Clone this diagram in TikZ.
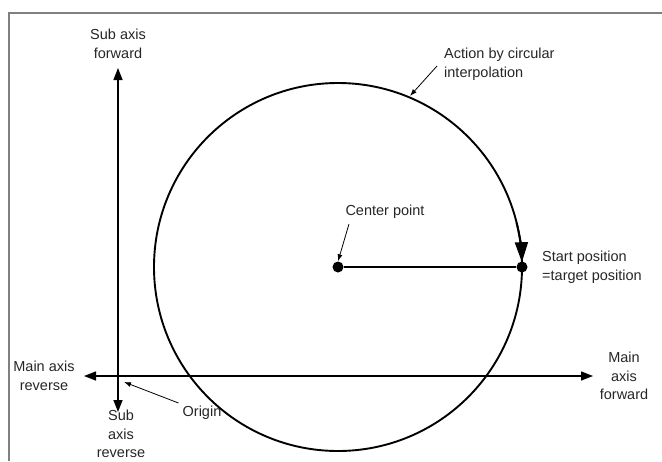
\documentclass[tikz,border=0pt]{standalone}
\usepackage{fontspec}
\setmainfont{Liberation Sans}
\usetikzlibrary{arrows.meta, positioning}

\begin{document}
\begin{tikzpicture}[
  x=1pt, y=-1pt,
  dot/.style={circle, fill, inner sep=0pt, minimum size=11pt},
  axis/.style={{Triangle[length=12pt,width=9pt]}-{Triangle[length=12pt,width=9pt]}, line width=1.4pt},
  note/.style={-{Latex[length=7pt,width=5pt]}, line width=0.8pt},
  txt/.style={align=center, font=\fontsize{14.5}{18.5}\selectfont, text=black!85, inner sep=1pt}
]
\useasboundingbox (0,0) rectangle (662,461);
\draw[gray, line width=1.5pt] (9,461) |- (662,13);

% axes
\coordinate (subtop) at (118,68);
\coordinate (subbot) at (118,412);
\coordinate (mainleft) at (84,376);
\coordinate (mainright) at (593,376);
\draw[axis] (subbot) -- (subtop);
\draw[axis] (mainleft) -- (mainright);

% circle
\node[dot] (center) at (338,267) {};
\node[dot] (start) at (522,267) {};
\draw[line width=1.9pt] (center.center) circle (184);
\draw[line width=1.9pt, -{Triangle[length=20pt,width=13pt]}] ([shift={(-14:184)}]center.center) arc (-14:-1.5:184);
\draw[line width=1.1pt] (center) -- (start);

% labels
\node[txt] (subfwd) at (118,44) {Sub axis\\forward};
\node[txt] (subrev) at (121,434) {Sub\\axis\\reverse};
\node[txt] (mainrev) at (44,376) {Main axis\\reverse};
\node[txt] (mainfwd) at (624,376) {Main\\axis\\forward};
\node[txt, anchor=west, align=left] (action) at (443,64) {Action by circular\\interpolation};
\node[txt] (centerlbl) at (385,212) {Center point};
\node[txt, anchor=west, align=left] (startlbl) at (541,267) {Start position\\=target position};
\node[txt] (origin) at (202,413) {Origin};

% callouts
\coordinate (actionpt) at (410,96);
\coordinate (originpt) at (124,382);
\draw[note] (action.west) ++(-6,2) -- (actionpt);
\draw[note] (centerlbl.south) ++(-36,4) -- (center.north);
\draw[note] (origin.west) ++(-3,-10) -- (originpt);
\end{tikzpicture}
\end{document}
